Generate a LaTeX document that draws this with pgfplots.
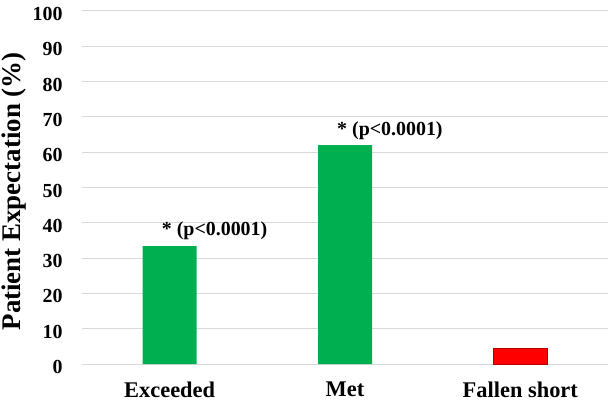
\documentclass[border=0pt]{standalone}
\usepackage{pgfplots}
\pgfplotsset{compat=1.18}
\usepackage{fontspec}
\setmainfont{Liberation Serif}

\definecolor{barGreen}{RGB}{0,176,80}
\definecolor{barRed}{RGB}{255,0,0}
\definecolor{gridGray}{RGB}{217,217,217}

\begin{document}
\begin{tikzpicture}
\begin{axis}[
    name=ax,
    scale only axis,
    width=526bp, height=353bp,
    xmin=-0.5, xmax=2.5,
    ymin=0, ymax=100,
    ytick={0,10,...,100},
    xtick={0,1,2},
    xticklabels={Exceeded, Met, Fallen short},
    axis line style={draw=none},
    tick style={draw=none},
    ymajorgrids,
    grid style={gridGray, line width=1pt},
    /pgf/number format/assume math mode=true,
    yticklabel={\fontsize{20}{22}\selectfont\bfseries\pgfmathprintnumber{\tick}},
    yticklabel style={xshift=-16bp, yshift=-3bp},
    xticklabel style={font=\fontsize{22.5}{24}\selectfont\bfseries, yshift=-14bp},
    ylabel={Patient Expectation (\%)},
    ylabel style={font=\fontsize{27}{29}\selectfont\bfseries,
        at={(axis description cs:-0.1293,0.489)}, anchor=center},
    clip=false,
]
\addplot[ybar, bar width=54bp, fill=barGreen, draw=none] coordinates {(0,33.4) (1,62)};
\addplot[ybar, bar width=54bp, fill=barRed, draw=barRed!70!black, line width=0.4pt] coordinates {(2,4.5)};
\node[anchor=base west, font=\fontsize{20}{22}\selectfont\bfseries, xshift=-8bp, yshift=11bp, inner sep=0pt] at (axis cs:0,33.4) {* (p<0.0001)};
\node[anchor=base west, font=\fontsize{20}{22}\selectfont\bfseries, xshift=-8bp, yshift=10bp, inner sep=0pt] at (axis cs:1,62) {* (p<0.0001)};
\end{axis}
\pgfresetboundingbox
\path[use as bounding box] ([xshift=-82bp,yshift=-38bp]ax.south west) rectangle ([xshift=5bp,yshift=11bp]ax.north east);
\end{tikzpicture}
\end{document}
